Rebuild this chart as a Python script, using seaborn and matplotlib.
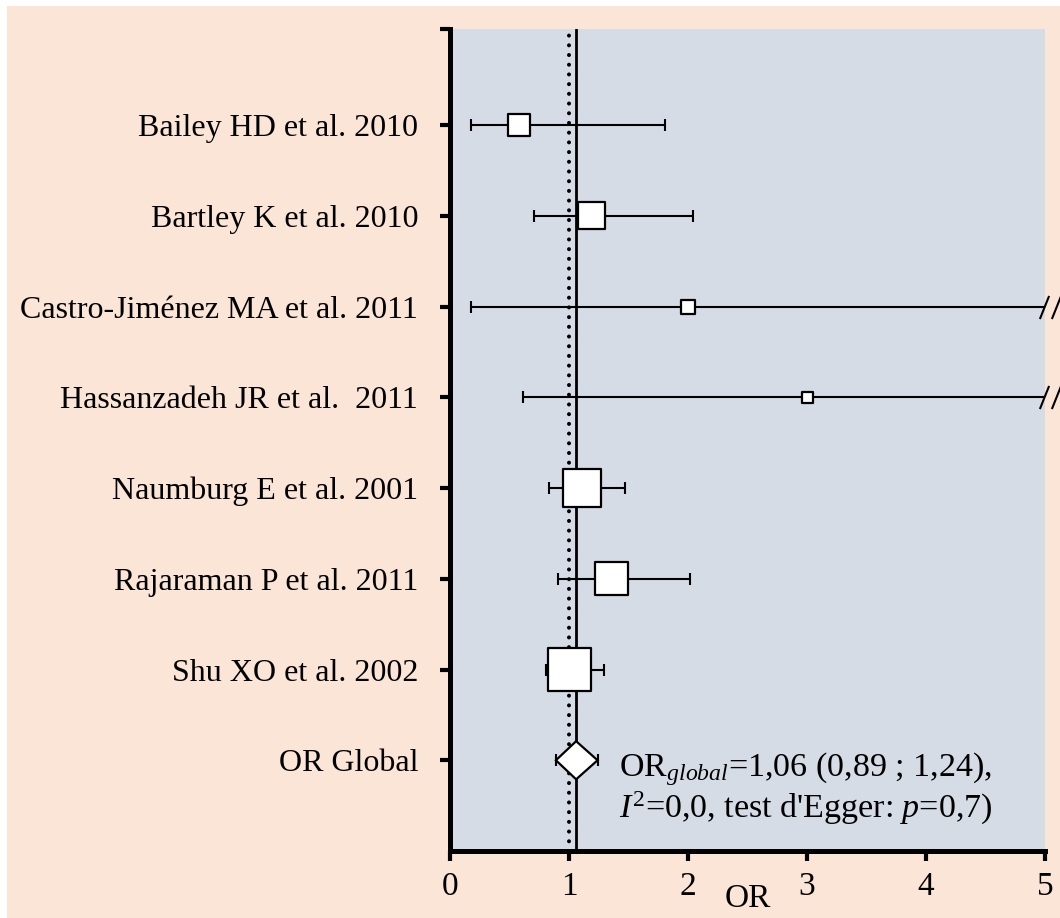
import numpy as np
import pandas as pd
import matplotlib
matplotlib.use("Agg")
import matplotlib.pyplot as plt
import seaborn as sns
from matplotlib.patches import Rectangle, Polygon
from matplotlib.path import Path
from matplotlib.transforms import offset_copy

# ---------------- data ----------------
studies = [
    "Bailey HD et al. 2010",
    "Bartley K et al. 2010",
    "Castro-Jiménez MA et al. 2011",
    "Hassanzadeh JR et al.  2011",
    "Naumburg E et al. 2001",
    "Rajaraman P et al. 2011",
    "Shu XO et al. 2002",
]
or_values = [0.58, 1.19, 2.00, 3.00, 1.11, 1.36, 1.00]
ci_low = [0.18, 0.71, 0.18, 0.61, 0.83, 0.91, 0.81]
ci_high = [1.81, 2.04, np.inf, np.inf, 1.47, 2.02, 1.29]  # inf = beyond axis (truncated, "//")
weights = [22, 27, 14, 11, 38, 33, 43]  # relative study weight (box side)

global_label = "OR Global"
global_or = 1.06
global_low = 0.89
global_high = 1.24
null_value = 1.0
x_ticks = [0, 1, 2, 3, 4, 5]
x_label = "OR"
annot_line1 = r"OR$_{global}$=1,06 (0,89 ; 1,24),"
annot_line2 = r"$I^{\mathrm{2}}$=0,0, test d'Egger: $p$=0,7)"

# ---------------- style ----------------
BLUE = "#D6DCE5"
PEACH = "#FBE5D6"
FS_LAB = 23
FS = 24
FS_ANN = 24.5

sns.set_theme(style="white")
plt.rcParams["font.family"] = ["Liberation Serif", "DejaVu Serif"]
plt.rcParams["mathtext.fontset"] = "custom"
plt.rcParams["mathtext.rm"] = "Liberation Serif"
plt.rcParams["mathtext.it"] = "Liberation Serif:italic"
for key in ["text.color", "axes.labelcolor", "xtick.color", "ytick.color",
            "xtick.labelcolor", "ytick.labelcolor"]:
    plt.rcParams[key] = "black"

W, H = 1060, 918
fig = plt.figure(figsize=(W / 100, H / 100), dpi=100, facecolor="white")
fig.patches.append(Rectangle((7 / W, 0), 1 - 7 / W, 1 - 6 / H, transform=fig.transFigure,
                             facecolor=PEACH, edgecolor="none", zorder=-10))

ax = fig.add_axes([450 / W, 1 - 851 / H, 595 / W, (851 - 29) / H])
ax.set_facecolor(BLUE)

n = len(studies)
rows = np.arange(n)
g_row = n
XMAX = x_ticks[-1]
ax.set_xlim(x_ticks[0], XMAX)
ax.set_ylim(g_row + 1, -1.06)

# reference lines
ax.axvline(null_value, color="black", lw=2.9, linestyle=(0, (0.01, 2.4)),
           dash_capstyle="round", zorder=2)
ax.axvline(global_or, color="black", lw=2.0, zorder=2)

# confidence intervals
df = pd.DataFrame({"study": studies, "or": or_values, "lo": ci_low, "hi": ci_high,
                   "w": weights, "row": rows})
hi_clip = np.minimum(df["hi"].values, XMAX)
ax.hlines(df["row"], df["lo"], hi_clip, color="black", lw=1.5, zorder=3)
ax.plot(df["lo"], df["row"], ls="none", marker="|", ms=9, mew=1.5, color="black", zorder=3)
capped = df["hi"] <= XMAX
ax.plot(df.loc[capped, "hi"], df.loc[capped, "row"], ls="none", marker="|", ms=9, mew=1.5,
        color="black", zorder=3)

# break marks "//" for truncated intervals
slash = Path([(-0.2, -0.5), (0.2, 0.5)], [Path.MOVETO, Path.LINETO])
trunc = df[df["hi"] > XMAX]
for dx in (-1.5, 10.5):
    tr = offset_copy(ax.transData, fig=fig, x=dx, y=0, units="dots")
    ax.plot(np.full(len(trunc), XMAX), trunc["row"], ls="none", marker=slash, ms=16.6,
            mew=1.5, color="black", transform=tr, clip_on=False, zorder=4)

# study boxes
sns.scatterplot(data=df, x="or", y="row", marker="s", s=(df["w"] * 0.72) ** 2,
                color="white", edgecolor="black", linewidth=1.6, zorder=5, ax=ax, legend=False)

# global diamond
ax.hlines(g_row, global_low, global_high, color="black", lw=1.5, zorder=3)
ax.plot([global_low, global_high], [g_row, g_row], ls="none", marker="|", ms=8, mew=1.5,
        color="black", zorder=3)
hh = 0.21
diamond = Polygon([(global_low, g_row), (global_or, g_row - hh), (global_high, g_row),
                   (global_or, g_row + hh)], closed=True, facecolor="white",
                  edgecolor="black", lw=1.6, zorder=6)
ax.add_patch(diamond)

ax.text(1.42, g_row + 0.31, annot_line1 + "\n" + annot_line2, fontsize=FS_ANN,
        ha="left", va="center", linespacing=1.05, color="black", zorder=7)

# axes / ticks
ax.set_yticks([-1.06] + list(rows) + [g_row])
ax.set_yticklabels([""] + studies + [global_label], fontsize=FS_LAB, color="black")
ax.set_xticks(x_ticks)
ax.set_xticklabels([str(t) for t in x_ticks], fontsize=FS, color="black")
ax.set_xlabel("")
ax.set_ylabel("")
for s in ["top", "right"]:
    ax.spines[s].set_visible(False)
for s in ["left", "bottom"]:
    ax.spines[s].set_linewidth(3.6)
    ax.spines[s].set_color("black")
ax.tick_params(axis="y", direction="out", length=7, width=3, color="black", pad=16,
               left=True)
ax.tick_params(axis="x", direction="out", length=7, width=3, color="black", pad=8,
               bottom=True)
ax.grid(False)

fig.text(748 / W, 1 - 899 / H, x_label, ha="center", va="center", fontsize=FS, color="black")

fig.savefig("out.png", dpi=100, facecolor=fig.get_facecolor())
